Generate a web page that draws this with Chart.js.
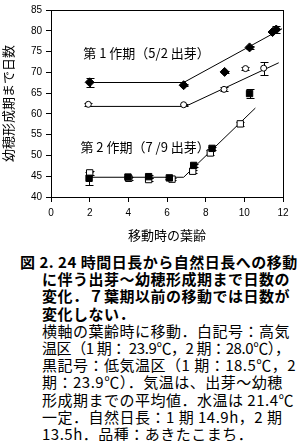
<!DOCTYPE html>
<html>
<head>
<meta charset="utf-8">
<script src="https://cdn.jsdelivr.net/npm/chart.js@4.4.0/dist/chart.umd.min.js"></script>
<style>
  body { margin: 0; background: #fff; width: 302px; height: 441px; overflow: hidden; position: relative; }
  #wrap { position: absolute; left: 0; top: 0; width: 302px; height: 245px; }
  #caption { position: absolute; left: 0; top: 253px; width: 302px; font-family: "Noto Sans CJK JP", sans-serif;
             font-size: 15px; line-height: 17.2px; letter-spacing: 0.5px; color: #000; white-space: nowrap; }
  #caption div { padding-left: 42px; }
  #caption .b { font-weight: bold; }
  #caption .first { padding-left: 20px; }
  #caption .tight { letter-spacing: -0.4px; }
</style>
</head>
<body>
<div id="wrap"><canvas id="c" width="302" height="245"></canvas></div>
<div id="caption">
  <div class="b first">図 2. 24 時間日長から自然日長への移動</div>
  <div class="b">に伴う出芽～幼穂形成期まで日数の</div>
  <div class="b">変化．７葉期以前の移動では日数が</div>
  <div class="b">変化しない．</div>
  <div>横軸の葉齢時に移動．白記号：高気</div>
  <div class="tight">温区（1 期： 23.9℃，2 期：28.0℃），</div>
  <div>黒記号：低気温区（1 期：18.5℃，2</div>
  <div>期：23.9℃）．気温は、出芽～幼穂</div>
  <div>形成期までの平均値．水温は 21.4℃</div>
  <div>一定．自然日長：1 期 14.9h，2 期</div>
  <div>13.5h．品種：あきたこまち．</div>
</div>
<script>
// 第1作期 低気温区 (black diamonds)
var leafP1Low = [2.0, 6.86, 8.98, 10.27, 11.46, 11.65];
var daysP1Low = [67.6, 66.9, 70.1, 76.0, 79.7, 80.3];
var errP1Low  = [1.1, 0.3, 0.3, 0.3, 0.3, 0.8];

// 第1作期 高気温区 (white circles)
var leafP1High = [1.93, 6.86, 8.95, 10.06, 11.0];
var daysP1High = [62.3, 62.2, 65.9, 70.9, 71.0];
var errP1High  = [0.4, 0.3, 0.5, 0.3, 1.6];

// 第2作期 低気温区 (black squares)
var leafP2Low = [1.97, 3.98, 5.05, 6.12, 7.38, 8.33, 10.27];
var daysP2Low = [44.5, 44.8, 44.9, 44.6, 47.6, 51.7, 64.9];
var errP2Low  = [1.5, 0.3, 0.3, 0.3, 0.4, 0.4, 1.1];

// 第2作期 高気温区 (white squares)
var leafP2High = [2.0, 4.02, 5.05, 6.26, 7.33, 8.24, 9.79];
var daysP2High = [45.8, 44.5, 44.2, 44.3, 46.2, 50.6, 57.6];
var errP2High  = [0.5, 0.3, 0.3, 0.3, 0.4, 0.6, 0.5];

// fitted broken lines
var fitP1LowX  = [2.0, 6.86, 11.95];
var fitP1LowY  = [67.55, 67.55, 80.5];
var fitP1HighX = [2.0, 6.95, 11.78];
var fitP1HighY = [61.8, 61.8, 72.3];
var fitP2X     = [2.0, 6.86, 10.57];
var fitP2Y     = [44.75, 44.75, 61.4];

var xTicks = [0, 2, 4, 6, 8, 10, 12];
var yMin = 40, yMax = 85, yStep = 5;

var labelP1 = '第 1 作期（5/2 出芽）';
var labelP2 = '第 2 作期（7 /9 出芽）';
var labelPos = [[1.67, 74.6], [1.52, 52.1]];

function pts(xs, ys) {
    var out = [];
    for (var i = 0; i < xs.length; i++) out.push({x: xs[i], y: ys[i]});
    return out;
}

function markSet(xs, ys, errs, style, radius, fill) {
    return {
        data: pts(xs, ys),
        errs: errs,
        showLine: false,
        pointStyle: style,
        pointRadius: radius,
        pointHoverRadius: radius,
        pointBackgroundColor: fill,
        pointBorderColor: '#000',
        pointBorderWidth: 1,
        order: 1
    };
}

function lineSet(xs, ys) {
    return {
        data: pts(xs, ys),
        showLine: true,
        borderColor: '#000',
        borderWidth: 1,
        pointRadius: 0,
        fill: false,
        order: 10
    };
}

var errorBars = {
    id: 'errorBars',
    beforeDatasetsDraw: function(chart) {
        var ctx = chart.ctx;
        var xs = chart.scales.x, ys = chart.scales.y;
        ctx.save();
        ctx.strokeStyle = '#000';
        ctx.lineWidth = 1;
        chart.data.datasets.forEach(function(ds) {
            if (!ds.errs) return;
            ds.data.forEach(function(p, i) {
                var e = ds.errs[i];
                if (!e) return;
                var px = Math.round(xs.getPixelForValue(p.x)) + 0.5;
                var top = Math.round(ys.getPixelForValue(p.y + e)) + 0.5;
                var bot = Math.round(ys.getPixelForValue(p.y - e)) + 0.5;
                ctx.beginPath();
                ctx.moveTo(px, top); ctx.lineTo(px, bot);
                ctx.moveTo(px - 4, top); ctx.lineTo(px + 4, top);
                ctx.moveTo(px - 4, bot); ctx.lineTo(px + 4, bot);
                ctx.stroke();
            });
        });
        ctx.restore();
    }
};

var frame = {
    id: 'frame',
    afterDraw: function(chart) {
        var a = chart.chartArea, ctx = chart.ctx;
        ctx.save();
        ctx.strokeStyle = '#000';
        ctx.lineWidth = 1;
        ctx.strokeRect(Math.round(a.left) + 0.5, Math.round(a.top) + 0.5,
                       Math.round(a.right - a.left), Math.round(a.bottom - a.top));
        ctx.restore();
    }
};

var notes = {
    id: 'notes',
    afterDraw: function(chart) {
        var ctx = chart.ctx, xs = chart.scales.x, ys = chart.scales.y;
        ctx.save();
        ctx.fillStyle = '#000';
        ctx.font = '13px "Noto Sans CJK JP"';
        ctx.textBaseline = 'middle';
        ctx.textAlign = 'left';
        [labelP1, labelP2].forEach(function(t, i) {
            ctx.fillText(t, xs.getPixelForValue(labelPos[i][0]), ys.getPixelForValue(labelPos[i][1]));
        });
        ctx.restore();
    }
};

var tickFont = {family: '"Liberation Sans", Arial', size: 10};

new Chart(document.getElementById('c'), {
    type: 'scatter',
    data: {
        datasets: [
            markSet(leafP1Low, daysP1Low, errP1Low, 'rectRot', 4.5, '#000'),
            markSet(leafP1High, daysP1High, errP1High, 'circle', 3, '#fff'),
            markSet(leafP2Low, daysP2Low, errP2Low, 'rect', 4.5, '#000'),
            markSet(leafP2High, daysP2High, errP2High, 'rect', 4.5, '#fff'),
            lineSet(fitP1LowX, fitP1LowY),
            lineSet(fitP1HighX, fitP1HighY),
            lineSet(fitP2X, fitP2Y)
        ]
    },
    options: {
        responsive: false,
        animation: false,
        layout: {padding: {top: 6, right: 19, left: 0, bottom: 0}},
        plugins: {legend: {display: false}, tooltip: {enabled: false}},
        scales: {
            x: {
                type: 'linear',
                min: 0, max: 12,
                afterBuildTicks: function(s) { s.ticks = xTicks.map(function(v) { return {value: v}; }); },
                afterFit: function(s) { s.height = 48; },
                grid: {drawOnChartArea: false, drawTicks: true, tickLength: 5, color: '#000'},
                border: {display: true, color: '#000'},
                ticks: {color: '#000', font: tickFont, padding: 5, maxRotation: 0},
                title: {display: true, text: '移動時の葉齢', color: '#000',
                        font: {family: '"Noto Sans CJK JP"', size: 13}, padding: {top: 0, bottom: 2}}
            },
            y: {
                min: yMin, max: yMax,
                afterFit: function(s) { s.width = 51; },
                grid: {drawOnChartArea: false, drawTicks: true, tickLength: 5, color: '#000'},
                border: {display: true, color: '#000'},
                ticks: {stepSize: yStep, color: '#000', font: tickFont, padding: 4},
                title: {display: true, text: '幼穂形成期まで日数', color: '#000',
                        font: {family: '"Noto Sans CJK JP"', size: 13}, padding: {top: 0, bottom: 0}}
            }
        }
    },
    plugins: [errorBars, frame, notes]
});
</script>
</body>
</html>
